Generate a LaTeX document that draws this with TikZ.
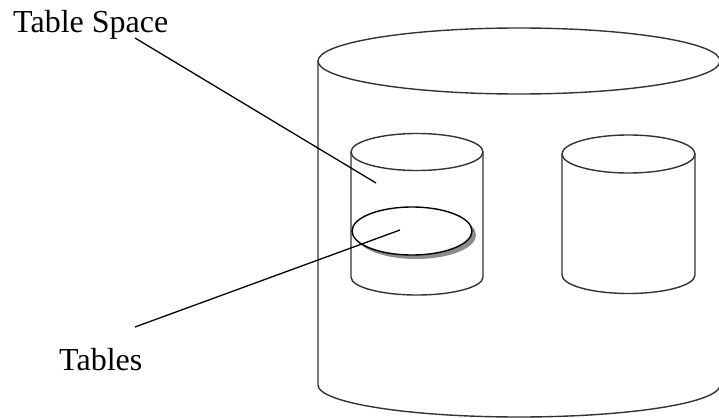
\documentclass[tikz,border=0pt]{standalone}
\usepackage{fontspec}
\setmainfont{Liberation Serif}
\begin{document}
\begin{tikzpicture}[x=1pt,y=-1pt,
  cyl/.style={draw=black!80,line width=1.4pt},
  leader/.style={draw=black,line width=1.3pt},
  lbl/.style={font=\fontsize{32}{36}\selectfont,inner sep=0pt,anchor=base west}]
\useasboundingbox (0,0) rectangle (719,417);
\begin{scope}
\clip (0,0) rectangle (719,417);
% big cylinder
\draw[cyl] (519,61) ellipse [x radius=201,y radius=33];
\draw[cyl] (318,61) -- (318,385) arc[start angle=180,end angle=0,x radius=201,y radius=32] -- (720,61);
\end{scope}
% small cylinder 1
\draw[cyl] (417,152) ellipse [x radius=66,y radius=18.5];
\draw[cyl] (351,152) -- (351,277) arc[start angle=180,end angle=0,x radius=66,y radius=18] -- (483,152);
% small cylinder 2
\draw[cyl] (628.5,154) ellipse [x radius=66.5,y radius=19];
\draw[cyl] (562,154) -- (562,275) arc[start angle=180,end angle=0,x radius=66.5,y radius=18.5] -- (695,154);
% table ellipse with shadow
\fill[black!45] (416,235) ellipse [x radius=60,y radius=24];
\draw[fill=white,line width=1.4pt] (412,231) ellipse [x radius=60,y radius=24];
% labels
\node[lbl] (ts) at (13,33) {Table Space};
\node[lbl] (tb) at (59,370) {Tables};
\coordinate (tsa) at (135,38);
\coordinate (tsb) at (376,183);
\coordinate (tba) at (135,327);
\coordinate (tbb) at (400,230);
\draw[leader] (tsa) -- (tsb);
\draw[leader] (tba) -- (tbb);
\end{tikzpicture}
\end{document}
